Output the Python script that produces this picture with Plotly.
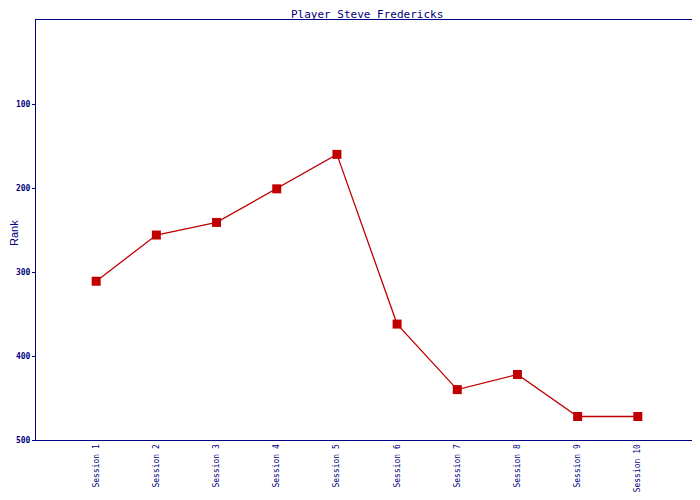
import plotly.graph_objects as go

sessions = [f"Session {i}" for i in range(1, 11)]
ranks = [311, 256, 241, 201, 160, 362, 440, 422, 472, 472]
y_ticks = [100, 200, 300, 400, 500]

navy = "#000080"
red = "#c00000"
mono = "DejaVu Sans Mono"

fig = go.Figure()
fig.add_trace(go.Scatter(
    x=sessions, y=ranks, mode="lines+markers",
    line=dict(color=red, width=1.3),
    marker=dict(symbol="square", size=9, color=red),
    showlegend=False,
))

# page body has an 8px default margin, so figure is 692x492 offset by 8px
fig.update_layout(
    width=692, height=492,
    margin=dict(l=28, r=2, t=12, b=60, autoexpand=False),
    paper_bgcolor="white", plot_bgcolor="white",
    title=dict(text="Player Steve Fredericks", x=0.519, xanchor="center",
               y=1 - 6.5 / 492, yanchor="middle", pad=dict(t=0, b=0),
               font=dict(family=mono, size=11, color=navy)),
    xaxis=dict(
        type="category", range=[-1, 10], automargin=False,
        showline=True, linecolor=navy, linewidth=1, mirror=True,
        showgrid=False, zeroline=False, ticks="",
        tickangle=-90, tickfont=dict(family=mono, size=8, color=navy),
    ),
    yaxis=dict(
        range=[500, 0], tickvals=y_ticks, automargin=False,
        showline=True, linecolor=navy, linewidth=1, mirror=True,
        showgrid=False, zeroline=False,
        ticks="outside", ticklen=3, tickcolor=navy,
        tickfont=dict(family=mono, size=8, color=navy, weight="bold"),
    ),
    annotations=[dict(
        text="Rank", xref="paper", yref="paper", x=-0.0332, y=0.493,
        xanchor="center", yanchor="middle", textangle=-90, showarrow=False,
        font=dict(family="Liberation Sans", size=11, color=navy),
    )],
)

fig.write_html("out.html")
